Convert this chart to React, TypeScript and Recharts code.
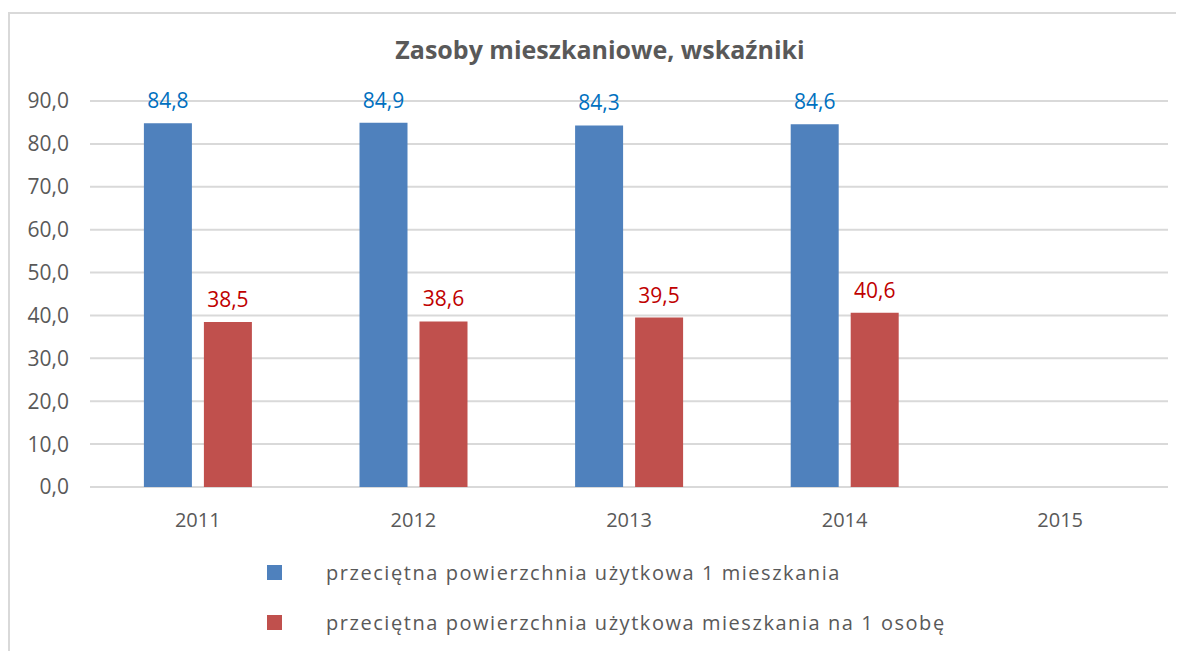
import { BarChart, Bar, XAxis, YAxis, CartesianGrid, LabelList } from 'recharts'

const years = ['2011', '2012', '2013', '2014', '2015']
const perDwelling = [84.8, 84.9, 84.3, 84.6, null]
const perPerson = [38.5, 38.6, 39.5, 40.6, null]
const yTicks = [0, 10, 20, 30, 40, 50, 60, 70, 80, 90]

const seriesNames = [
  'przeciętna powierzchnia użytkowa 1 mieszkania',
  'przeciętna powierzchnia użytkowa mieszkania na 1 osobę',
]
const seriesColors = ['#4f81bd', '#c0504d']
const labelColors = ['#0070c0', '#c00000']

const data = years.map((year, i) => ({
  year,
  a: perDwelling[i],
  b: perPerson[i],
}))

const FONT = '"Open Sans", sans-serif'
const fmt = (v: any) => (v == null ? '' : Number(v).toFixed(1).replace('.', ','))

export default function App() {
  return (
    <div style={{ position: 'relative', width: 1176, height: 643, fontFamily: FONT }}>
      {/* chart frame, only left and top edges visible */}
      <div
        style={{
          position: 'absolute',
          left: 0,
          top: 4,
          right: -10,
          bottom: -10,
          borderLeft: '2px solid #d9d9d9',
          borderTop: '2px solid #d9d9d9',
        }}
      />
      <div
        style={{
          position: 'absolute',
          top: 24,
          left: 0,
          width: 1184,
          textAlign: 'center',
          fontSize: 25,
          fontWeight: 700,
          color: '#595959',
        }}
      >
        Zasoby mieszkaniowe, wskaźniki
      </div>
      <BarChart
        width={1176}
        height={643}
        data={data}
        margin={{ top: 93, right: 16, bottom: 134, left: 22 }}
        barCategoryGap="25%"
        barGap={12}
      >
        <CartesianGrid vertical={false} stroke="#d9d9d9" strokeWidth={2} />
        <XAxis
          dataKey="year"
          axisLine={false}
          tickLine={false}
          height={30}
          tick={{ fill: '#595959', fontSize: 20, fontFamily: FONT, dy: 18 }}
        />
        <YAxis
          domain={[0, 90]}
          ticks={yTicks}
          width={60}
          axisLine={false}
          tickLine={false}
          tickFormatter={fmt}
          tick={{ fill: '#595959', fontSize: 21, fontFamily: FONT, dx: -13 }}
        />
        <Bar dataKey="a" fill={seriesColors[0]} isAnimationActive={false}>
          <LabelList
            dataKey="a"
            position="top"
            offset={15}
            formatter={fmt}
            style={{ fill: labelColors[0], fontSize: 21, fontFamily: FONT }}
          />
        </Bar>
        <Bar dataKey="b" fill={seriesColors[1]} isAnimationActive={false}>
          <LabelList
            dataKey="b"
            position="top"
            offset={15}
            formatter={fmt}
            style={{ fill: labelColors[1], fontSize: 21, fontFamily: FONT }}
          />
        </Bar>
      </BarChart>
      <div style={{ position: 'absolute', left: 259, top: 539 }}>
        {seriesNames.map((name, i) => (
          <div key={name} style={{ display: 'flex', alignItems: 'center', height: 50 }}>
            <span style={{ width: 15, height: 15, background: seriesColors[i], display: 'inline-block' }} />
            <span style={{ marginLeft: 44, fontSize: 20, color: '#595959', letterSpacing: 1.55 }}>{name}</span>
          </div>
        ))}
      </div>
    </div>
  )
}
